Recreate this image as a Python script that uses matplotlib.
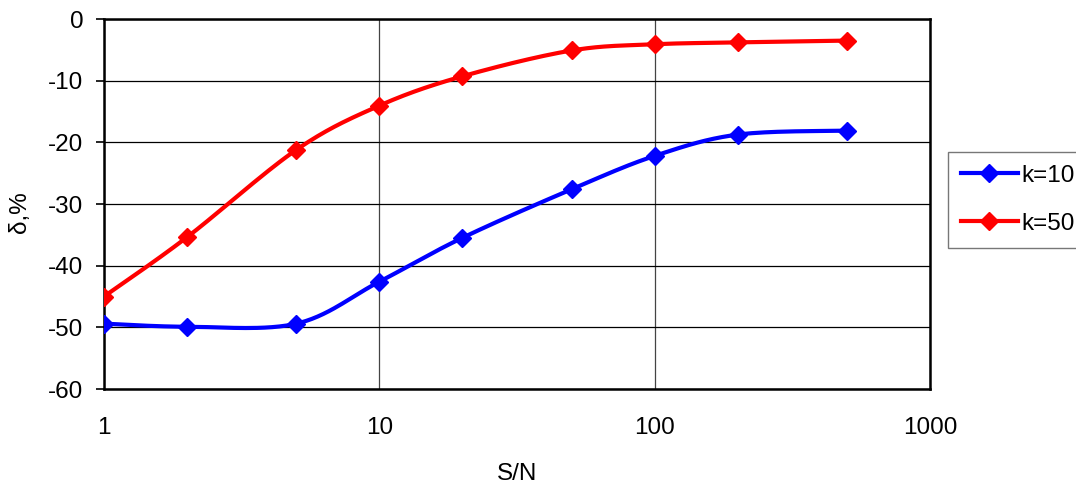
import numpy as np
import matplotlib
matplotlib.use("Agg")
import matplotlib.pyplot as plt

plt.rcParams['font.family'] = ['Liberation Sans', 'DejaVu Sans']

# S/N values at which delta was computed
snr = [1, 2, 5, 10, 20, 50, 100, 200, 500]
# relative error delta, % for two values of k
delta_k10 = [-49.4, -49.9, -49.4, -42.6, -35.5, -27.6, -22.2, -18.75, -18.1]
delta_k50 = [-45.0, -35.4, -21.2, -14.05, -9.3, -5.1, -4.1, -3.8, -3.5]
series_labels = ["k=10", "k=50"]
series_colors = ["#0000ff", "#ff0000"]
y_ticks = [0, -10, -20, -30, -40, -50, -60]
x_ticks = [1, 10, 100, 1000]


def smooth(xs, ys, n=30):
    """Catmull-Rom style smoothing in (log10 x, y) space."""
    u = np.log10(np.asarray(xs, float))
    v = np.asarray(ys, float)
    pts = np.column_stack([u, v])
    ext = np.vstack([pts[0], pts, pts[-1]])
    out = []
    for i in range(1, len(ext) - 2):
        p0, p1, p2, p3 = ext[i - 1], ext[i], ext[i + 1], ext[i + 2]
        c1 = p1 + (p2 - p0) / 6.0
        c2 = p2 - (p3 - p1) / 6.0
        t = np.linspace(0, 1, n, endpoint=(i == len(ext) - 3))[:, None]
        seg = ((1 - t) ** 3) * p1 + 3 * ((1 - t) ** 2) * t * c1 + 3 * (1 - t) * t ** 2 * c2 + t ** 3 * p2
        out.append(seg)
    out = np.vstack(out)
    return 10 ** out[:, 0], out[:, 1]


FS = 17.5

fig = plt.figure(figsize=(10.76, 4.86), dpi=100)
ax = fig.add_axes([104 / 1076, 1 - 389 / 486, 826 / 1076, 370 / 486])

handles = []
for ys, lab, col in zip([delta_k10, delta_k50], series_labels, series_colors):
    sx, sy = smooth(snr, ys)
    ax.plot(sx, sy, color=col, lw=3.0, solid_capstyle='round', zorder=3)
    ax.plot(snr, ys, linestyle='none', marker='D', markersize=9,
            color=col, zorder=4)
    h, = ax.plot([], [], color=col, lw=3.0, marker='D', markersize=9, label=lab)
    handles.append(h)

ax.set_xscale('log')
ax.set_xlim(1, 1000)
ax.set_ylim(-60, 0)
ax.set_xticks(x_ticks)
ax.set_xticklabels([str(v) for v in x_ticks])
ax.xaxis.set_minor_locator(matplotlib.ticker.NullLocator())
ax.set_yticks(y_ticks)
ax.set_yticklabels([str(v) for v in y_ticks])

ax.tick_params(axis='x', length=0, pad=20, labelsize=FS)
ax.tick_params(axis='y', length=6, width=1.2, direction='out', pad=9, labelsize=FS)

ax.grid(axis='y', color='black', lw=0.9)
ax.grid(axis='x', color='#444444', lw=0.9)
ax.set_axisbelow(True)
for s in ax.spines.values():
    s.set_linewidth(1.8)
    s.set_color('black')

ax.set_xlabel("S/N", fontsize=FS)
ax.xaxis.set_label_coords(0.5, -0.2)
ax.set_ylabel("δ,%", fontsize=FS)
ax.yaxis.set_label_coords(-0.088, 0.478)

leg = fig.legend(handles=handles, loc='upper left',
                 bbox_to_anchor=(948 / 1076, 1 - 152 / 486), borderaxespad=0,
                 fontsize=FS, frameon=True, fancybox=False, handlelength=2.35,
                 handletextpad=0.15, labelspacing=1.06, borderpad=0.53)
leg.get_frame().set_edgecolor('#555555')
leg.get_frame().set_linewidth(1.0)

fig.savefig("out.png", dpi=100)
